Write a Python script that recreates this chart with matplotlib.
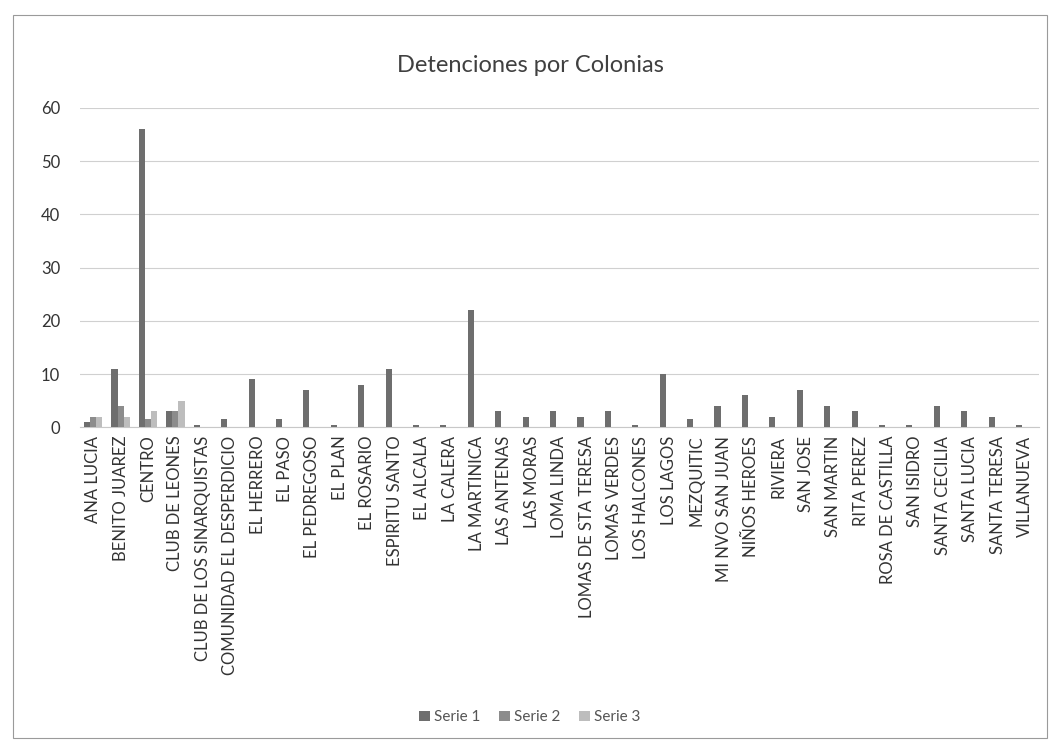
import numpy as np
import matplotlib.pyplot as plt
from matplotlib.patches import Rectangle

plt.rcParams['font.family'] = ['Lato', 'DejaVu Sans']

colonias = ["ANA LUCIA", "BENITO JUAREZ", "CENTRO", "CLUB DE LEONES",
            "CLUB DE LOS SINARQUISTAS", "COMUNIDAD EL DESPERDICIO",
            "EL HERRERO", "EL PASO", "EL PEDREGOSO", "EL PLAN", "EL ROSARIO",
            "ESPIRITU SANTO", "EL ALCALA", "LA CALERA", "LA MARTINICA",
            "LAS ANTENAS", "LAS MORAS", "LOMA LINDA", "LOMAS DE STA TERESA",
            "LOMAS VERDES", "LOS HALCONES", "LOS LAGOS", "MEZQUITIC",
            "MI NVO SAN JUAN", "NIÑOS HEROES", "RIVIERA", "SAN JOSE",
            "SAN MARTIN", "RITA PEREZ", "ROSA DE CASTILLA", "SAN ISIDRO",
            "SANTA CECILIA", "SANTA LUCIA", "SANTA TERESA", "VILLANUEVA"]

serie1 = [1, 11, 56, 3, 0.5, 1.5, 9, 1.5, 7, 0.5, 8, 11, 0.5, 0.5, 22,
          3, 2, 3, 2, 3, 0.5, 10, 1.5, 4, 6, 2, 7, 4, 3, 0.5, 0.5, 4, 3, 2, 0.5]
serie2 = [2, 4, 1.5, 3] + [0] * 31
serie3 = [2, 2, 3, 5] + [0] * 31

colores = ['#6e6e6e', '#8c8c8c', '#bdbdbd']

fig = plt.figure(figsize=(10.6, 7.55), dpi=100)
fig.patches.append(Rectangle((0.012, 0.022), 0.976, 0.958, transform=fig.transFigure,
                             fill=False, edgecolor='#9a9a9a', lw=0.8))
ax = fig.add_axes([0.075, 0.434, 0.905, 0.423])

x = np.arange(len(colonias))
w = 0.222
for i, (vals, nombre) in enumerate(zip([serie1, serie2, serie3],
                                       ['Serie 1', 'Serie 2', 'Serie 3'])):
    ax.bar(x + (i - 1) * w, vals, w, color=colores[i], label=nombre, zorder=3)

ax.set_xlim(-0.5, len(colonias) - 0.5)
ax.set_ylim(0, 60)
ax.set_yticks(range(0, 61, 10))
ax.set_xticks(x)
ax.set_xticklabels(colonias, rotation=90, fontsize=12, color='#333333')
ax.tick_params(axis='y', labelsize=12, colors='#333333', length=0, pad=14)
ax.tick_params(axis='x', length=0, pad=6)
ax.grid(axis='y', color='#d0d0d0', lw=0.8, zorder=0)
for s in ['top', 'right', 'left']:
    ax.spines[s].set_visible(False)
ax.spines['bottom'].set_color('#c8c8c8')

fig.text(0.5, 0.905, 'Detenciones por Colonias', ha='center', fontsize=17,
         color='#404040')
fig.legend(loc='center', bbox_to_anchor=(0.5, 0.05), ncol=3, frameon=False,
           fontsize=11, handlelength=0.7, handleheight=0.7, columnspacing=1.2,
           handletextpad=0.3, labelcolor='#555555')

fig.savefig('out.png', dpi=100)
